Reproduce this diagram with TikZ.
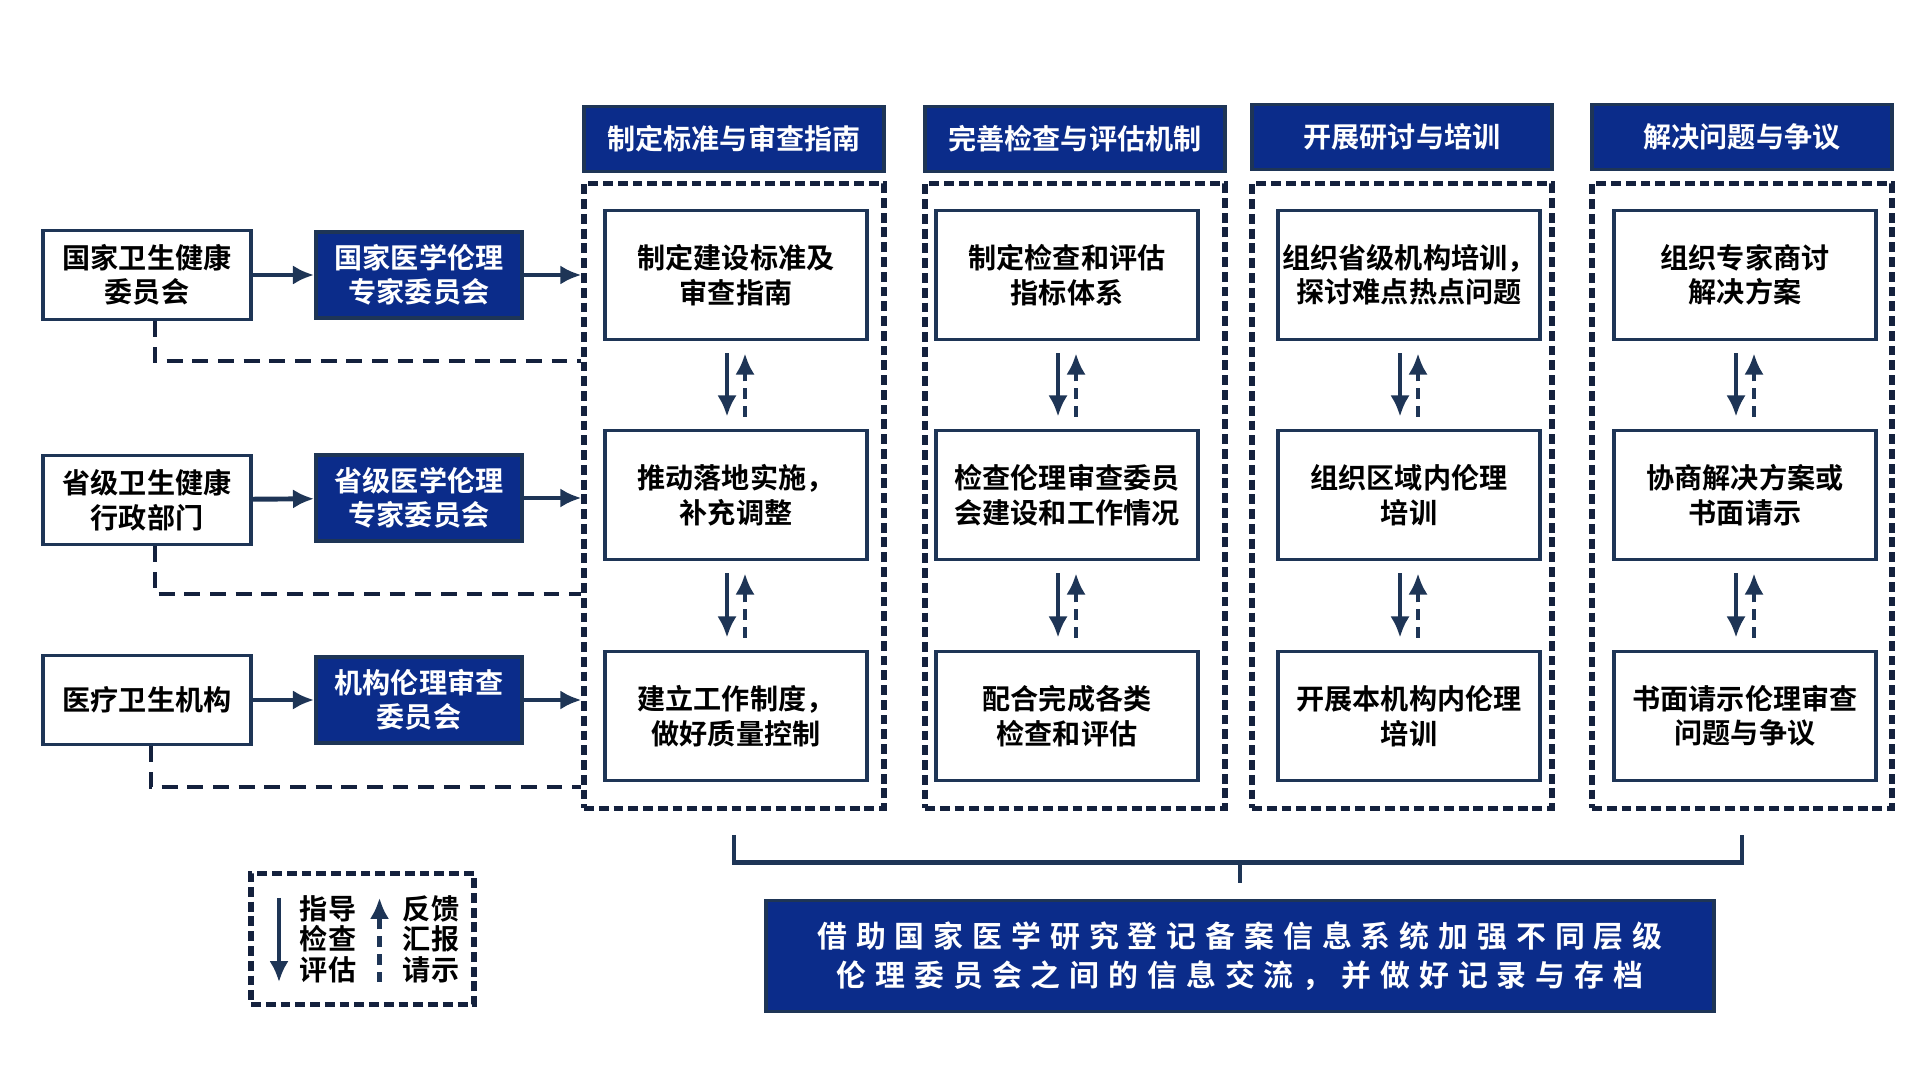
\documentclass[tikz,border=0pt]{standalone}
\usepackage{fontspec}
\newfontfamily\cjk{Noto Sans CJK SC}[BoldFont={Noto Sans CJK SC Bold}]
\newfontfamily\cjkwide{Noto Sans CJK SC}[BoldFont={Noto Sans CJK SC Bold},LetterSpace=30]
\usetikzlibrary{arrows.meta}
\definecolor{navy}{HTML}{0B2C8A}
\definecolor{edgeblue}{HTML}{1E3556}
\definecolor{framec}{HTML}{14213D}
\begin{document}
\begin{tikzpicture}[
  font=\cjk\bfseries\fontsize{8pt}{9.8pt}\selectfont,
  lbox/.style={draw=edgeblue, line width=1.1pt, fill=white, text=black, align=center,
    minimum width=2.08cm, minimum height=0.89cm, inner sep=1pt},
  dbox/.style={draw=edgeblue, line width=1.1pt, fill=navy, text=white, align=center,
    minimum width=2.06cm, minimum height=0.86cm, inner sep=1pt},
  hbox/.style={dbox, minimum width=3.0cm, minimum height=0.65cm},
  ibox/.style={lbox, minimum width=2.62cm, minimum height=1.29cm},
  frame/.style={draw=framec, line width=1.5pt, dash pattern=on 2.8pt off 1.4pt,
    minimum width=3.0cm, minimum height=6.245cm},
  go/.style={-{Latex[length=6pt,width=5.5pt]}, draw=edgeblue, line width=1.4pt},
  goback/.style={go, dash pattern=on 3pt off 2pt},
  back/.style={draw=framec, line width=1.4pt, dash pattern=on 4.5pt off 2.8pt},
  brk/.style={draw=edgeblue, line width=1.4pt},
]
\useasboundingbox (0,0) rectangle (19.2,-10.8);

% levels
\node[lbox] (l1) at (1.47,-2.75) {国家卫生健康\\委员会};
\node[lbox] (l2) at (1.47,-5.00) {省级卫生健康\\行政部门};
\node[lbox] (l3) at (1.47,-7.00) {医疗卫生机构};
\node[dbox] (d1) at (4.19,-2.75) {国家医学伦理\\专家委员会};
\node[dbox] (d2) at (4.19,-4.98) {省级医学伦理\\专家委员会};
\node[dbox] (d3) at (4.19,-7.00) {机构伦理审查\\委员会};

% columns
\node[hbox] (h1) at (7.34,-1.39) {制定标准与审查指南};
\node[hbox] (h2) at (10.75,-1.39) {完善检查与评估机制};
\node[hbox] (h3) at (14.02,-1.37) {开展研讨与培训};
\node[hbox] (h4) at (17.42,-1.37) {解决问题与争议};
\node[frame] (f1) at (7.34,-4.96) {};
\node[frame] (f2) at (10.75,-4.96) {};
\node[frame] (f3) at (14.02,-4.96) {};
\node[frame] (f4) at (17.42,-4.96) {};

\node[ibox] (a1) at (7.36,-2.75) {制定建设标准及\\审查指南};
\node[ibox] (a2) at (7.36,-4.95) {推动落地实施，\\补充调整};
\node[ibox] (a3) at (7.36,-7.16) {建立工作制度，\\做好质量控制};
\node[ibox] (b1) at (10.67,-2.75) {制定检查和评估\\指标体系};
\node[ibox] (b2) at (10.67,-4.95) {检查伦理审查委员\\会建设和工作情况};
\node[ibox] (b3) at (10.67,-7.16) {配合完成各类\\检查和评估};
\node[ibox] (c1) at (14.09,-2.75) {组织省级机构培训，\\探讨难点热点问题};
\node[ibox] (c2) at (14.09,-4.95) {组织区域内伦理\\培训};
\node[ibox] (c3) at (14.09,-7.16) {开展本机构内伦理\\培训};
\node[ibox] (e1) at (17.45,-2.75) {组织专家商讨\\解决方案};
\node[ibox] (e2) at (17.45,-4.95) {协商解决方案或\\书面请示};
\node[ibox] (e3) at (17.45,-7.16) {书面请示伦理审查\\问题与争议};

% guidance and feedback
\draw[go] (l1) -- (d1);
\draw[go] (l2) -- (d2);
\draw[go] (l3) -- (d3);
\draw[go] (d1) -- (f1.west |- d1);
\draw[go] (d2) -- (f1.west |- d2);
\draw[go] (d3) -- (f1.west |- d3);
\coordinate (k1) at (0,-3.61);
\coordinate (k2) at (0,-5.94);
\coordinate (k3) at (0,-7.87);
\draw[back] ([xshift=.8mm]l1.south) |- (f1.west |- k1);
\draw[back] ([xshift=.8mm]l2.south) |- (f1.west |- k2);
\draw[back] ([xshift=.4mm]l3.south) |- (f1.west |- k3);

\foreach \u/\v in {a1/a2,a2/a3,b1/b2,b2/b3,c1/c2,c2/c3,e1/e2,e2/e3}{
  \draw[go] ([xshift=-.9mm,yshift=-1.2mm]\u.south) -- ([xshift=-.9mm,yshift=1.2mm]\v.north);
  \draw[goback] ([xshift=.9mm,yshift=1.2mm]\v.north) -- ([xshift=.9mm,yshift=-1.2mm]\u.south);
}

% summary
\node[dbox, minimum width=9.48cm, minimum height=1.11cm,
  font=\cjkwide\bfseries\fontsize{8.5pt}{11.1pt}\selectfont] (sum) at (12.40,-9.56)
  {借助国家医学研究登记备案信息系统加强不同层级\\伦理委员会之间的信息交流，并做好记录与存档};
\draw[brk] ([yshift=-2.4mm]f1.south) -- ++(0,-0.28) -| ([yshift=-2.4mm]f4.south);
\draw[brk] ([yshift=1.6mm]sum.north) -- ++(0,0.23);

% legend
\node[frame, minimum width=2.23cm, minimum height=1.31cm] (lg) at (3.625,-9.39) {};
\node[font=\cjk\bfseries\fontsize{8pt}{8.7pt}\selectfont, align=center] (lt1) at (3.28,-9.39) {指导\\检查\\评估};
\node[font=\cjk\bfseries\fontsize{8pt}{8.7pt}\selectfont, align=center] (lt2) at (4.31,-9.39) {反馈\\汇报\\请示};
\draw[go] ([xshift=-8.35mm,yshift=-2.7mm]lg.north) -- ([xshift=-8.35mm,yshift=2.5mm]lg.south);
\draw[goback] ([xshift=1.7mm,yshift=2.5mm]lg.south) -- ([xshift=1.7mm,yshift=-2.7mm]lg.north);
\end{tikzpicture}
\end{document}
